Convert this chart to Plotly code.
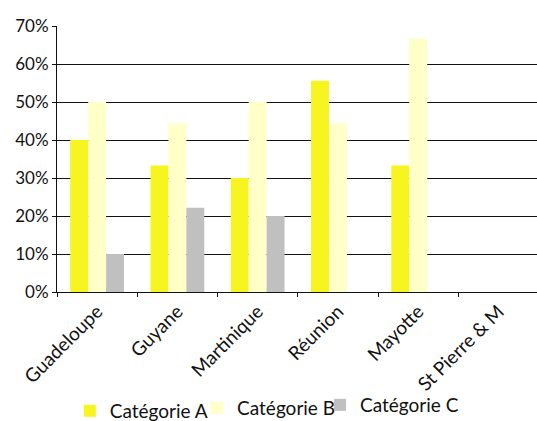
import plotly.graph_objects as go

regions = ["Guadeloupe", "Guyane", "Martinique", "Réunion", "Mayotte", "St Pierre & M"]
cat_a = [0.40, 0.333, 0.30, 0.556, 0.333, None]
cat_b = [0.50, 0.444, 0.50, 0.444, 0.667, None]
cat_c = [0.10, 0.222, 0.20, None, None, None]
series_names = ["Catégorie A", "Catégorie B", "Catégorie C"]
colors = ["#F7F520", "#FFFFC8", "#C0C0C0"]

font_family = "Lato, 'Open Sans', sans-serif"

# each series gets its own legend box so the entries can sit close together;
# positions are given in container coordinates so the plot margins stay fixed
legend_ids = ["legend", "legend2", "legend3"]
legend_x = [0.130, 0.367, 0.596]
legend_y = [0.024, 0.031, 0.038]

fig = go.Figure()
for name, vals, col, lid in zip(series_names, [cat_a, cat_b, cat_c], colors, legend_ids):
    fig.add_trace(go.Bar(x=regions, y=vals, name=name, marker_color=col,
                         marker_line_width=0, legend=lid))

legend_style = dict(orientation="h", xanchor="left", yanchor="middle",
                    xref="container", yref="container",
                    font=dict(size=19), itemwidth=30,
                    bgcolor="rgba(0,0,0,0)")
legends = {}
for lid, lx, ly in zip(legend_ids, legend_x, legend_y):
    legends[lid] = dict(legend_style, x=lx, y=ly)

fig.update_layout(
    width=537, height=421,
    margin=dict(l=57, r=0, t=26, b=129),
    paper_bgcolor="white", plot_bgcolor="white",
    barmode="group", bargap=0.33, bargroupgap=0,
    font=dict(family=font_family, size=16, color="#111"),
    showlegend=True,
    **legends,
)
fig.update_xaxes(
    type="category", range=[-0.5, 5.48], automargin=False,
    showline=True, linecolor="#111", linewidth=1,
    ticks="outside", tickson="boundaries", ticklen=4, tickcolor="#111",
    tickangle=-45, tickfont=dict(size=19), showgrid=False,
)
fig.update_yaxes(
    range=[0, 0.7], dtick=0.1, tickformat=".0%", automargin=False,
    showline=True, linecolor="#111", linewidth=1,
    ticks="outside", ticklen=4, tickcolor="#111",
    showgrid=True, gridcolor="#111", gridwidth=1,
    tickfont=dict(size=17), zeroline=False,
)

fig.write_html("out.html")
